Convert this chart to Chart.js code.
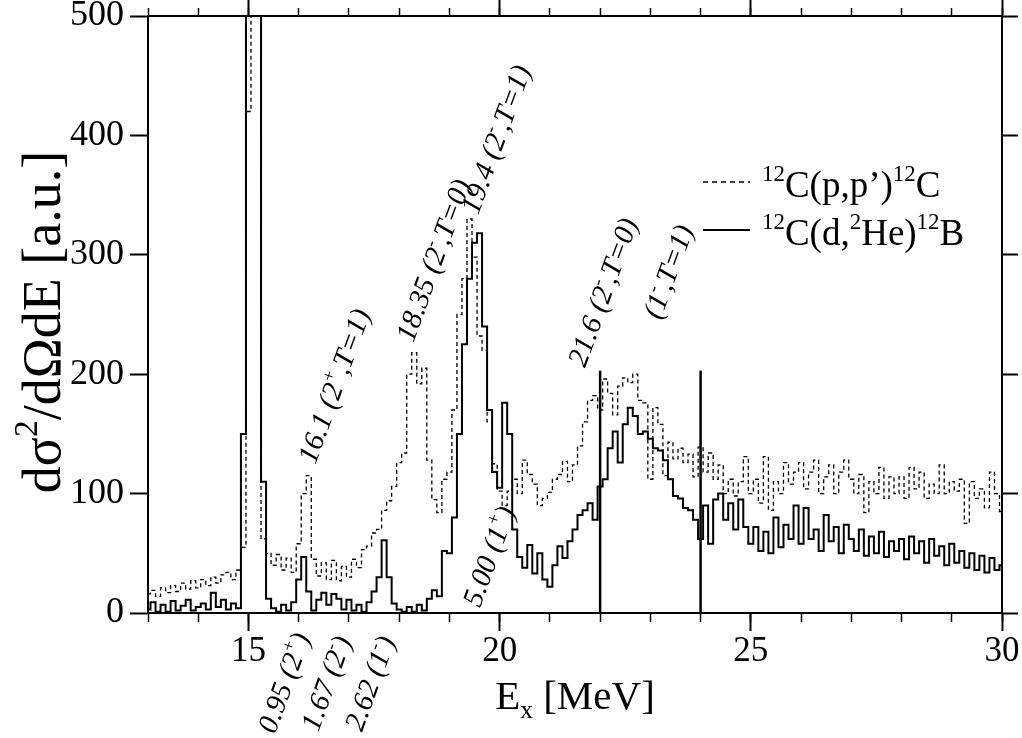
<!DOCTYPE html>
<html><head><meta charset="utf-8">
<script src="https://cdn.jsdelivr.net/npm/chart.js@4.4.1/dist/chart.umd.min.js"></script>
<style>html,body{margin:0;padding:0;background:#fff}#wrap{width:1022px;height:738px;position:relative}</style>
</head><body><div id="wrap"><canvas id="c" width="1022" height="738"></canvas></div>
<script>
// ---- data ----
const energies = [
13.0,13.1,13.2,13.3,13.4,13.5,13.6,13.7,13.8,13.9,
14.0,14.1,14.2,14.3,14.4,14.5,14.6,14.7,14.8,14.9,
15.0,15.1,15.2,15.3,15.4,15.5,15.6,15.7,15.8,15.9,
16.0,16.1,16.2,16.3,16.4,16.5,16.6,16.7,16.8,16.9,
17.0,17.1,17.2,17.3,17.4,17.5,17.6,17.7,17.8,17.9,
18.0,18.1,18.2,18.3,18.4,18.5,18.6,18.7,18.8,18.9,
19.0,19.1,19.2,19.3,19.4,19.5,19.6,19.7,19.8,19.9,
20.0,20.1,20.2,20.3,20.4,20.5,20.6,20.7,20.8,20.9,
21.0,21.1,21.2,21.3,21.4,21.5,21.6,21.7,21.8,21.9,
22.0,22.1,22.2,22.3,22.4,22.5,22.6,22.7,22.8,22.9,
23.0,23.1,23.2,23.3,23.4,23.5,23.6,23.7,23.8,23.9,
24.0,24.1,24.2,24.3,24.4,24.5,24.6,24.7,24.8,24.9,
25.0,25.1,25.2,25.3,25.4,25.5,25.6,25.7,25.8,25.9,
26.0,26.1,26.2,26.3,26.4,26.5,26.6,26.7,26.8,26.9,
27.0,27.1,27.2,27.3,27.4,27.5,27.6,27.7,27.8,27.9,
28.0,28.1,28.2,28.3,28.4,28.5,28.6,28.7,28.8,28.9,
29.0,29.1,29.2,29.3,29.4,29.5,29.6,29.7,29.8,29.9,
30.0];
// 12C(p,p')12C (dashed)
const ppValues = [
16,19,14,21,17,23,18,25,20,27,
21,28,23,30,25,32,34,28,36,55,
420,650,560,62,50,40,49,36,46,34,
58,100,115,45,31,42,28,44,27,39,
30,45,38,53,56,67,70,86,94,106,
126,134,200,218,192,205,128,95,84,112,
118,170,250,280,330,298,232,220,160,125,
102,90,102,112,100,128,116,108,90,96,
101,112,116,127,110,124,140,160,178,182,
170,196,184,166,190,197,193,200,178,176,
112,172,158,115,143,129,138,126,133,114,
139,118,134,112,124,100,112,98,110,131,
100,112,92,131,86,110,100,126,108,118,
126,104,118,128,100,114,124,100,118,128,
112,100,116,84,110,100,122,96,114,100,
114,96,122,104,118,96,108,100,124,100,
110,102,112,75,110,96,104,88,118,100,
85];
// 12C(d,2He)12B (solid)
const dheValues = [
3,9,1,7,1,10,2,6,11,2,
5,8,3,17,5,11,3,8,4,150,
620,640,600,110,12,4,1,7,2,9,
28,47,18,2,11,17,7,16,12,3,
11,2,7,1,9,18,30,61,30,8,
3,1,5,1,7,2,12,19,14,52,
50,80,150,225,280,310,318,240,170,118,
105,176,150,70,47,38,57,33,50,28,
22,40,56,46,60,70,82,86,92,78,
106,112,138,152,126,158,172,165,150,152,
146,138,136,128,112,98,96,88,86,78,
62,90,58,95,100,78,92,70,95,72,
58,72,52,68,50,80,55,74,62,90,
58,88,62,70,52,82,60,72,50,74,
62,52,70,48,64,50,68,47,60,52,
62,45,64,50,60,42,62,48,56,40,
58,42,52,38,50,36,48,34,46,36,
40];
// vertical marker lines
const markerEnergies = [22.0, 24.0];
const markerHeights = [203, 203];
// ticks
const xMajorTicks = [15, 20, 25, 30];
const xMinorTicks = [13,14,15,16,17,18,19,20,21,22,23,24,25,26,27,28,29,30];
const yTicks = [0, 100, 200, 300, 400, 500];
// text
const seriesNames = ['^{12}C(p,p\u2019)^{12}C', '^{12}C(d,^{2}He)^{12}B'];
const yTitle = 'd\u03c3^{2}/d\u03a9dE [a.u.]';
const xTitle = 'E_{x} [MeV]';
const stateTexts = ['16.1 (2^{+},T=1)', '18.35 (2^{-},T=0)', '19.4 (2^{-},T=1)', '21.6 (2^{-},T=0)',
  '(1^{-},T=1)', '5.00 (1^{+})', '0.95 (2^{+})', '1.67 (2^{-})', '2.62 (1^{-})'];

// ---- annotation placement (data coordinates of label start) ----
const stateAnchors = [
  {x:16.33, y:124}, {x:18.28, y:226}, {x:19.57, y:333}, {x:21.70, y:205},
  {x:23.20, y:245}, {x:19.61, y:4}, {x:15.53, y:-102}, {x:16.39, y:-100}, {x:17.26, y:-100}
];

const SERIF = '"Liberation Serif","DejaVu Serif",serif';

function parseRich(str) {
  const segs = []; let i = 0, buf = '';
  while (i < str.length) {
    if ((str[i] === '^' || str[i] === '_') && str[i+1] === '{') {
      if (buf) { segs.push({t:buf}); buf = ''; }
      const end = str.indexOf('}', i);
      segs.push({t: str.slice(i+2, end), sup: str[i]==='^', sub: str[i]==='_'});
      i = end + 1;
    } else { buf += str[i]; i++; }
  }
  if (buf) segs.push({t:buf});
  return segs;
}
function drawRich(ctx, str, x, y, size, style) {
  let cx = x;
  for (const s of parseRich(str)) {
    let fs = size, dy = 0;
    if (s.sup) { fs = size * 0.62; dy = -size * 0.42; }
    if (s.sub) { fs = size * 0.62; dy = size * 0.22; }
    ctx.font = `${style} ${fs}px ${SERIF}`;
    ctx.fillText(s.t, cx, y + dy);
    cx += ctx.measureText(s.t).width;
  }
  return cx - x;
}
function richWidth(ctx, str, size, style) {
  let w = 0;
  for (const s of parseRich(str)) {
    const fs = (s.sup || s.sub) ? size * 0.62 : size;
    ctx.font = `${style} ${fs}px ${SERIF}`;
    w += ctx.measureText(s.t).width;
  }
  return w;
}

const textPlugin = {
  id: 'texts',
  afterDraw(chart) {
    const ctx = chart.ctx, xs = chart.scales.x, ys = chart.scales.y;
    ctx.save();
    ctx.fillStyle = '#000';
    ctx.textBaseline = 'alphabetic';
    ctx.textAlign = 'left';
    // state labels
    stateTexts.forEach((t, i) => {
      const a = stateAnchors[i];
      const px = xs.getPixelForValue(a.x), py = ys.getPixelForValue(a.y);
      ctx.save();
      ctx.translate(px, py);
      ctx.rotate(-70 * Math.PI / 180);
      drawRich(ctx, t, 0, 0, 29, 'italic');
      ctx.restore();
    });
    // legend
    const legX0 = 703, legX1 = 750, legTx = 762;
    const rows = [{y: 182, dash: [5, 4], w: 1.3}, {y: 230, dash: [], w: 2}];
    rows.forEach((r, i) => {
      ctx.save();
      ctx.strokeStyle = '#000'; ctx.lineWidth = r.w; ctx.setLineDash(r.dash);
      ctx.beginPath(); ctx.moveTo(legX0, r.y); ctx.lineTo(legX1, r.y); ctx.stroke();
      ctx.restore();
      drawRich(ctx, seriesNames[i], legTx, r.y + 15, 37, 'normal');
    });
    // y title
    ctx.save();
    ctx.translate(60, 322);
    ctx.rotate(-Math.PI / 2);
    const yw = richWidth(ctx, yTitle, 54, 'normal');
    drawRich(ctx, yTitle, -yw / 2, 0, 54, 'normal');
    ctx.restore();
    // x title
    const xw = richWidth(ctx, xTitle, 41, 'normal');
    drawRich(ctx, xTitle, 575 - xw / 2, 709, 41, 'normal');
    ctx.restore();
  }
};

const ppData = energies.map((e, i) => ({x: e, y: ppValues[i]}));
const dheData = energies.map((e, i) => ({x: e, y: dheValues[i]}));
const markerSets = markerEnergies.map((e, i) => ({
  type: 'line', data: [{x: e, y: 0}, {x: e, y: markerHeights[i]}],
  borderColor: '#000', borderWidth: 2.5, pointRadius: 0, fill: false
}));

new Chart(document.getElementById('c'), {
  type: 'line',
  data: {
    datasets: [
      {label: 'pp', data: ppData, borderColor: '#000', borderWidth: 1.3, borderDash: [4, 3],
       stepped: 'middle', pointRadius: 0, fill: false},
      {label: 'dhe', data: dheData, borderColor: '#000', borderWidth: 2,
       stepped: 'middle', pointRadius: 0, fill: false},
      ...markerSets
    ]
  },
  options: {
    responsive: false, animation: false, devicePixelRatio: 1,
    layout: {padding: 0},
    plugins: {legend: {display: false}, tooltip: {enabled: false}},
    scales: {
      x: {
        type: 'linear', position: 'bottom', min: 13, max: 30, weight: 1,
        afterBuildTicks: s => { s.ticks = xMajorTicks.map(v => ({value: v})); },
        afterFit: s => { s.height = 125; s.paddingLeft = 0; s.paddingRight = 0; },
        ticks: {font: {family: SERIF, size: 35}, color: '#000', padding: 0, maxRotation: 0, autoSkip: false},
        grid: {drawOnChartArea: false, tickLength: 18, tickWidth: 2, tickColor: '#000'},
        border: {display: true, color: '#000', width: 2}
      },
      xMinor: {
        type: 'linear', position: 'bottom', min: 13, max: 30, weight: 0,
        afterBuildTicks: s => { s.ticks = xMinorTicks.map(v => ({value: v})); },
        afterFit: s => { s.height = 0; s.paddingLeft = 0; s.paddingRight = 0; },
        ticks: {display: false},
        grid: {drawOnChartArea: false, tickLength: 9, tickWidth: 1.5, tickColor: '#000'},
        border: {display: false}
      },
      xTop: {
        type: 'linear', position: 'top', min: 13, max: 30, weight: 1,
        afterBuildTicks: s => { s.ticks = xMajorTicks.map(v => ({value: v})); },
        afterFit: s => { s.height = 16; s.paddingLeft = 0; s.paddingRight = 0; },
        ticks: {display: false},
        grid: {drawOnChartArea: false, tickLength: 16, tickWidth: 2, tickColor: '#000'},
        border: {display: true, color: '#000', width: 2}
      },
      xTopMinor: {
        type: 'linear', position: 'top', min: 13, max: 30, weight: 0,
        afterBuildTicks: s => { s.ticks = xMinorTicks.map(v => ({value: v})); },
        afterFit: s => { s.height = 0; s.paddingLeft = 0; s.paddingRight = 0; },
        ticks: {display: false},
        grid: {drawOnChartArea: false, tickLength: 8, tickWidth: 1.5, tickColor: '#000'},
        border: {display: false}
      },
      y: {
        type: 'linear', position: 'left', min: 0, max: 500,
        afterBuildTicks: s => { s.ticks = yTicks.map(v => ({value: v})); },
        afterFit: s => { s.width = 148; s.paddingTop = 0; s.paddingBottom = 0; },
        ticks: {font: {family: SERIF, size: 36}, color: '#000', padding: 6},
        grid: {drawOnChartArea: false, tickLength: 18, tickWidth: 2, tickColor: '#000'},
        border: {display: true, color: '#000', width: 2}
      },
      yRight: {
        type: 'linear', position: 'right', min: 0, max: 500,
        afterBuildTicks: s => { s.ticks = yTicks.map(v => ({value: v})); },
        afterFit: s => { s.width = 20; s.paddingTop = 0; s.paddingBottom = 0; },
        ticks: {display: false},
        grid: {drawOnChartArea: false, tickLength: 16, tickWidth: 2, tickColor: '#000'},
        border: {display: true, color: '#000', width: 2}
      }
    }
  },
  plugins: [textPlugin]
});
</script></body></html>
